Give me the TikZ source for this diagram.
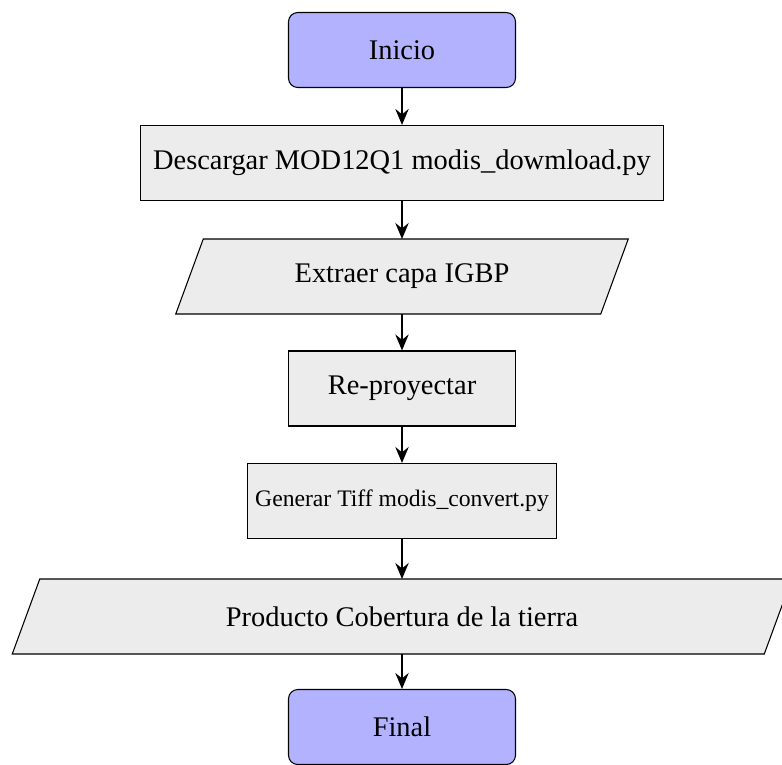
\documentclass[tikz,border=0pt]{standalone}
\usepackage{fontspec}
\setmainfont{Liberation Serif}
\usetikzlibrary{calc,arrows.meta,backgrounds}
\begin{document}
\begin{tikzpicture}[x=0.3763pt,y=-0.3763pt,
  font=\fontsize{10.7}{13}\selectfont,
  startstop/.style={rectangle, rounded corners=3.5pt, draw=black, fill=blue!30,
    minimum width=227*0.3763pt, minimum height=75*0.3763pt, inner sep=0pt},
  procbox/.style={rectangle, draw=black, fill=gray!15,
    minimum height=75*0.3763pt, inner sep=0pt},
  iotext/.style={rectangle, minimum height=75*0.3763pt, inner sep=0pt, outer sep=0pt},
  ioshape/.style={draw=black, fill=gray!15},
  flowarrow/.style={thick, -{Stealth[length=6pt,width=5pt,inset=2pt]}}]
\useasboundingbox (0,0) rectangle (782,764);
\node[startstop] (inicio) at (402,50) {Inicio};
\node[procbox, minimum width=523*0.3763pt] (descargar) at (402,163) {Descargar MOD12Q1 modis\_dowmload.py};
\node[iotext, minimum width=425*0.3763pt] (extraer) at (402,276.5) {Extraer capa IGBP};
\node[procbox, minimum width=227*0.3763pt] (reproy) at (402,388.5) {Re-proyectar};
\node[procbox, minimum width=309*0.3763pt, font=\fontsize{8.9}{11}\selectfont] (tiff) at (402,501) {Generar Tiff modis\_convert.py};
\node[iotext, minimum width=752*0.3763pt] (producto) at (402,616.5) {Producto Cobertura de la tierra};
\node[startstop] (final) at (402,727) {Final};
\begin{scope}[on background layer]
  \foreach \n in {extraer,producto}{
    \draw[ioshape] ($(\n.south west)+(-13.75,0)$) -- ($(\n.south east)+(-13.75,0)$)
      -- ($(\n.north east)+(13.75,0)$) -- ($(\n.north west)+(13.75,0)$) -- cycle;
  }
\end{scope}
\draw[flowarrow] (inicio) -- (descargar);
\draw[flowarrow] (descargar) -- (extraer);
\draw[flowarrow] (extraer) -- (reproy);
\draw[flowarrow] (reproy) -- (tiff);
\draw[flowarrow] (tiff) -- (producto);
\draw[flowarrow] (producto) -- (final);
\end{tikzpicture}
\end{document}
